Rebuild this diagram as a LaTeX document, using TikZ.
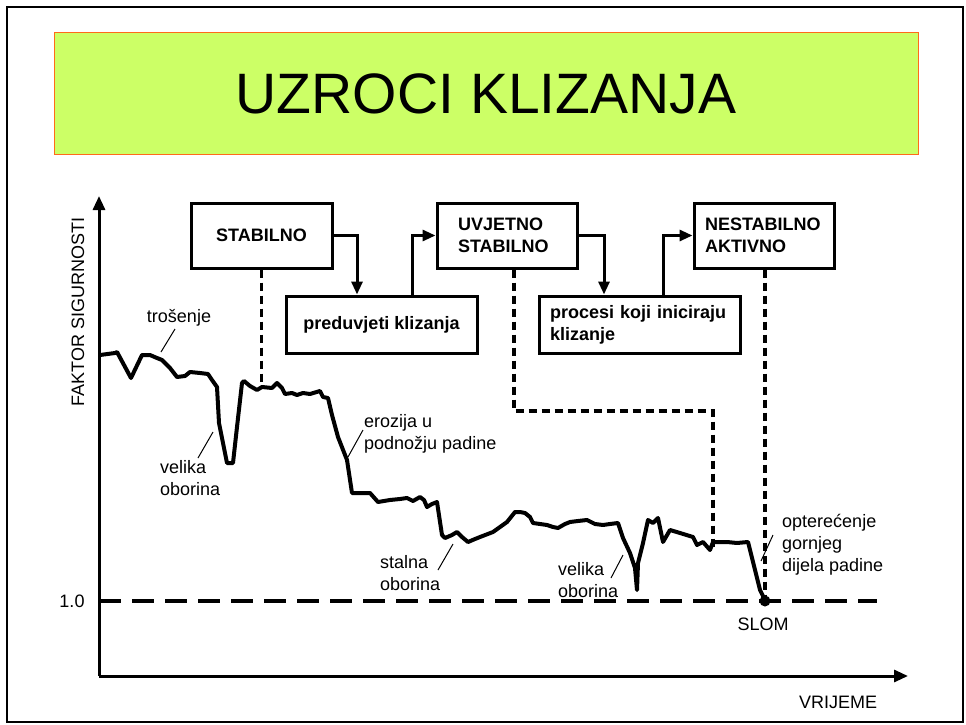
\documentclass[tikz,border=0pt]{standalone}
\usepackage{fontspec}
\setmainfont{Liberation Sans}
\usetikzlibrary{arrows.meta}
\definecolor{titlefill}{HTML}{CCFF66}
\definecolor{titleedge}{HTML}{FF6A1A}
\tikzset{
  stagebox/.style={draw=black, line width=3pt, inner ysep=0pt, font=\bfseries\fontsize{18}{22}\selectfont, align=left},
  conn/.style={line width=3pt, -{Triangle[length=13pt,width=11pt]}},
  guide/.style={line width=3.5pt, dash pattern=on 8pt off 5pt},
  lbl/.style={font=\fontsize{18}{22}\selectfont, align=left, inner sep=0pt},
  leader/.style={line width=1pt},
  curve/.style={line width=4pt, line join=round, line cap=round},
  axis/.style={line width=3pt, -{Triangle[length=14pt,width=12pt]}},
}
\begin{document}
\begin{tikzpicture}[x=1pt,y=-1pt]
\useasboundingbox (0,0) rectangle (966,725);
% slide frame
\draw[line width=2.5pt] (7,7) rectangle (963,722);
% title
\node[draw=titleedge, line width=1pt, fill=titlefill, minimum width=864pt, minimum height=121pt, inner sep=0pt,
      font=\fontsize{57}{60}\selectfont] (title) at (486,93.5) {UZROCI KLIZANJA};
% axes
\coordinate (origin) at (99,676);
\coordinate (ytop) at (99,196);
\coordinate (xend) at (908,676);
\draw[axis] (origin) -- (ytop);
\draw[axis] (origin) -- (xend);
\node[lbl, rotate=90] (ylab) at (78,312) {FAKTOR SIGURNOSTI};
\node[lbl] (xlab) at (838,702) {VRIJEME};
\node[lbl] (one) at (72,601) {1.0};
% factor = 1 line
\coordinate (f1a) at (99,601);
\coordinate (f1b) at (877,601);
\draw[line width=3.5pt, dash pattern=on 22pt off 11pt] (f1a) -- (f1b);
% stage boxes
\node[stagebox, minimum width=141pt, minimum height=65pt, align=center] (stab) at (261.5,235.5) {STABILNO};
\node[stagebox, minimum width=191pt, minimum height=57pt, align=center] (pre) at (381.5,324.5) {preduvjeti klizanja};
\node[stagebox, text width=98pt, inner xsep=21pt, minimum height=65pt] (uv) at (507,235.5) {UVJETNO\\STABILNO};
\node[stagebox, text width=179pt, inner xsep=11pt, minimum height=57pt] (proc) at (639.5,324.5) {procesi koji iniciraju\\klizanje};
\node[stagebox, text width=118pt, inner xsep=11pt, minimum height=65pt] (nest) at (764,235.5) {NESTABILNO\\AKTIVNO};
% arrows between boxes
\coordinate (c1) at (357,0);
\coordinate (c2) at (412,0);
\coordinate (c3) at (604,0);
\coordinate (c4) at (663,0);
\draw[conn] (stab.east) -| (c1 |- pre.north);
\draw[conn] (c2 |- pre.north) |- (uv.west);
\draw[conn] (uv.east) -| (c3 |- proc.north);
\draw[conn] (c4 |- proc.north) |- (nest.west);
% safety factor curve
\draw[curve] (100,355) -- (115,353) -- (117,352) -- (131,378) -- (142,355) -- (150,355) -- (157,358) -- (162,360)
 -- (170,368) -- (177,377) -- (185,376) -- (190,372) -- (200,373) -- (208,374) -- (212,380) -- (217,387)
 -- (219,423) -- (227,463) -- (233,463) -- (237,427) -- (242,383) -- (244,381) -- (250,386) -- (257,390)
 -- (262,387) -- (272,388) -- (277,383) -- (282,388) -- (285,394) -- (292,393) -- (297,395) -- (303,393)
 -- (310,394) -- (320,391) -- (323,397) -- (328,398) -- (332,415) -- (338,437) -- (347,460) -- (352,493)
 -- (370,493) -- (378,502) -- (390,500) -- (400,499) -- (407,498) -- (413,501) -- (420,497) -- (424,500)
 -- (427,507) -- (432,504) -- (437,502) -- (442,535) -- (445,538) -- (452,535) -- (457,532) -- (462,537)
 -- (468,542) -- (475,539) -- (480,537) -- (493,532) -- (500,527) -- (507,522) -- (515,512) -- (520,512)
 -- (525,513) -- (530,517) -- (533,523) -- (540,524) -- (547,525) -- (553,527) -- (558,528) -- (565,524)
 -- (570,522) -- (578,521) -- (587,520) -- (595,524) -- (603,525) -- (610,524) -- (618,523) -- (623,538)
 -- (630,553) -- (635,568) -- (637,590) -- (638,563) -- (643,543) -- (648,520) -- (653,523) -- (658,518)
 -- (663,542) -- (670,530) -- (680,533) -- (693,537) -- (697,545) -- (703,542) -- (710,550) -- (713,542)
 -- (727,542) -- (737,543) -- (748,542) -- (760,590) -- (765,600);
% failure point
\node[circle, fill=black, inner sep=0pt, minimum size=11pt] (slom) at (765,601) {};
\node[lbl] (slomlab) at (763,624) {SLOM};
% guide lines from stages to curve
\coordinate (g1) at (0,386);
\draw[guide] (stab.south) -- (stab.south |- g1);
\coordinate (g2) at (514,411);
\coordinate (g3) at (713,547);
\draw[guide] (g2 |- uv.south) -- (g2) -| (g3);
\draw[guide] (nest.south -| slom) -- (slom);
% labels and leaders
\node[lbl] (tros) at (179,318) {trošenje};
\coordinate (t1) at (175,329); \coordinate (t2) at (161,352);
\draw[leader] (t1) -- (t2);
\node[lbl, anchor=west] (vel1) at (160,478.5) {velika\\oborina};
\coordinate (v1) at (213,432); \coordinate (v2) at (198,458);
\draw[leader] (v1) -- (v2);
\node[lbl, anchor=west] (eroz) at (364,434) {erozija u\\podnožju padine};
\coordinate (e1) at (363,430); \coordinate (e2) at (348,457);
\draw[leader] (e1) -- (e2);
\node[lbl, anchor=west] (stal) at (380,573) {stalna\\oborina};
\coordinate (s1) at (453,544); \coordinate (s2) at (438,570);
\draw[leader] (s1) -- (s2);
\node[lbl, anchor=west] (vel2) at (558,580) {velika\\oborina};
\coordinate (w1) at (623,555); \coordinate (w2) at (611,578);
\draw[leader] (w1) -- (w2);
\node[lbl, anchor=west] (opt) at (782,545) {opterećenje\\gornjeg\\dijela padine};
\coordinate (o1) at (773,535); \coordinate (o2) at (761,561);
\draw[leader] (o1) -- (o2);
\end{tikzpicture}
\end{document}
